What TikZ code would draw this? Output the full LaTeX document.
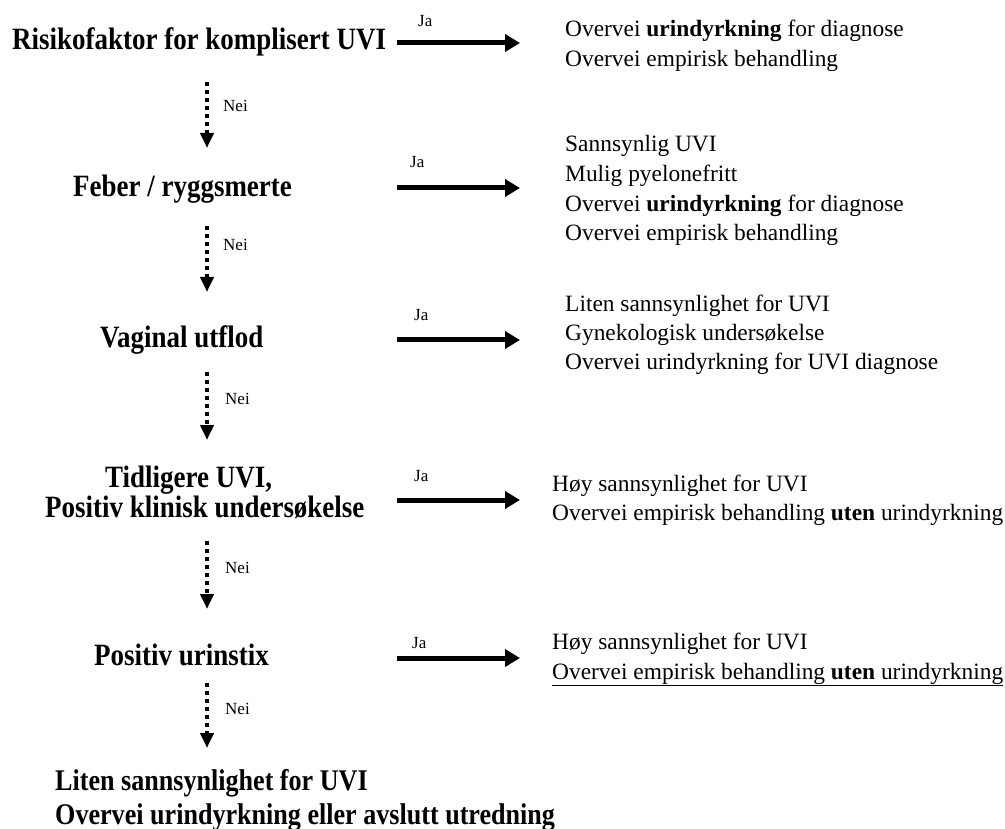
\documentclass[tikz,border=0pt]{standalone}
\usepackage{fontspec}
\setmainfont{Liberation Serif}
\newfontfamily\tallfont[FakeStretch=0.87]{Liberation Serif}
\usetikzlibrary{arrows.meta}
\begin{document}
\begin{tikzpicture}[x=1pt,y=-1pt,
  title/.style={font=\tallfont\fontsize{31}{34}\selectfont\bfseries, inner sep=0pt, anchor=base west},
  final/.style={font=\tallfont\fontsize{30}{34}\selectfont\bfseries, inner sep=0pt, anchor=base west},
  body/.style={font=\fontsize{23.4}{30}\selectfont, inner sep=0pt, anchor=base west},
  lbl/.style={font=\fontsize{17}{19}\selectfont, inner sep=0pt, anchor=base west},
  yes/.style={line width=5pt, -{Triangle[length=15pt,width=17pt]}},
  no/.style={line width=4pt, dash pattern=on 4pt off 4pt, -{Triangle[length=15pt,width=13pt]}},
]
\useasboundingbox (0,0) rectangle (1005,829);

% titles
\node[title] (t1) at (12,50) {Risikofaktor for komplisert UVI};
\node[title] (t2) at (73,197) {Feber / ryggsmerte};
\node[title] (t3) at (100,348) {Vaginal utflod};
\node[title] (t4a) at (105,487) {Tidligere UVI,};
\node[title] (t4b) at (45,517) {Positiv klinisk undersøkelse};
\node[title] (t5) at (94,665) {Positiv urinstix};
\node[final] (f1) at (55,790) {Liten sannsynlighet for UVI};
\node[final] (f2) at (55,824) {Overvei urindyrkning eller avslutt utredning};

% right blocks
\node[body] (r1a) at (565,37) {Overvei \textbf{urindyrkning} for diagnose};
\node[body] (r1b) at (565,67) {Overvei empirisk behandling};

\node[body] (r2a) at (565,152) {Sannsynlig UVI};
\node[body] (r2b) at (565,182) {Mulig pyelonefritt};
\node[body] (r2c) at (565,212) {Overvei \textbf{urindyrkning} for diagnose};
\node[body] (r2d) at (565,241) {Overvei empirisk behandling};

\node[body] (r3a) at (565,312) {Liten sannsynlighet for UVI};
\node[body] (r3b) at (565,341) {Gynekologisk undersøkelse};
\node[body] (r3c) at (565,370) {Overvei urindyrkning for UVI diagnose};

\node[body] (r4a) at (552,491) {Høy sannsynlighet for UVI};
\node[body] (r4b) at (552,520) {Overvei empirisk behandling \textbf{uten} urindyrkning};

\node[body] (r5a) at (552,649) {Høy sannsynlighet for UVI};
\node[body] (r5b) at (552,679) {\underline{Overvei empirisk behandling \textbf{uten} urindyrkning}};

% yes arrows
\coordinate (y1s) at (397,43);  \coordinate (y1e) at (520,43);
\coordinate (y2s) at (397,188); \coordinate (y2e) at (520,188);
\coordinate (y3s) at (397,340); \coordinate (y3e) at (520,340);
\coordinate (y4s) at (397,500); \coordinate (y4e) at (520,500);
\coordinate (y5s) at (397,658); \coordinate (y5e) at (520,658);
\draw[yes] (y1s) -- (y1e);
\draw[yes] (y2s) -- (y2e);
\draw[yes] (y3s) -- (y3e);
\draw[yes] (y4s) -- (y4e);
\draw[yes] (y5s) -- (y5e);
\node[lbl] (j1) at (418,27) {Ja};
\node[lbl] (j2) at (410,168) {Ja};
\node[lbl] (j3) at (414,321) {Ja};
\node[lbl] (j4) at (414,481) {Ja};
\node[lbl] (j5) at (412,648) {Ja};

% no arrows
\coordinate (n1s) at (207,82);  \coordinate (n1e) at (207,148);
\coordinate (n2s) at (207,226); \coordinate (n2e) at (207,292);
\coordinate (n3s) at (207,372); \coordinate (n3e) at (207,440);
\coordinate (n4s) at (207,541); \coordinate (n4e) at (207,609);
\coordinate (n5s) at (207,683); \coordinate (n5e) at (207,748);
\draw[no] (n1s) -- (n1e);
\draw[no] (n2s) -- (n2e);
\draw[no] (n3s) -- (n3e);
\draw[no] (n4s) -- (n4e);
\draw[no] (n5s) -- (n5e);
\node[lbl] (m1) at (223,112) {Nei};
\node[lbl] (m2) at (223,251) {Nei};
\node[lbl] (m3) at (225,404) {Nei};
\node[lbl] (m4) at (225,573) {Nei};
\node[lbl] (m5) at (225,714) {Nei};
\end{tikzpicture}
\end{document}
